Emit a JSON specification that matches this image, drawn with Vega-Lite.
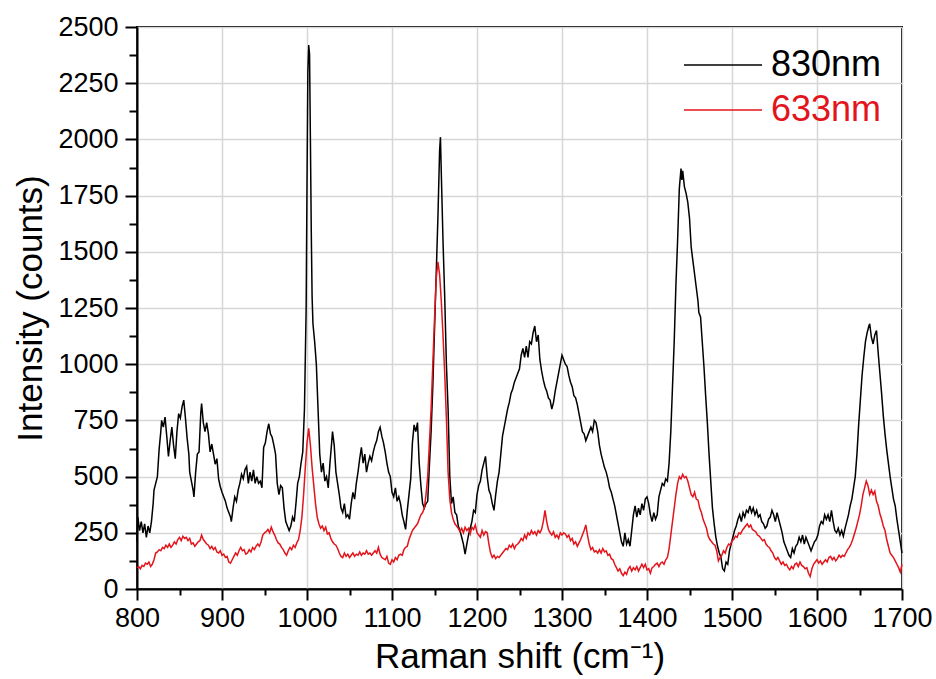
{
"$schema":"https://vega.github.io/schema/vega-lite/v6.json",
"width":765,"height":562,
"autosize":{"type":"none"},
"padding":{"left":137,"top":27,"right":34,"bottom":90},
"background":"white",
"config":{"view":{"stroke":"black","strokeWidth":2},"font":"Liberation Sans"},
"datasets":{
"k":[{"x":800,"y":210},{"x":801,"y":320},{"x":803,"y":260},{"x":805,"y":300},{"x":807,"y":250},{"x":809,"y":290},{"x":811,"y":230},{"x":813,"y":280},{"x":815,"y":250},{"x":817,"y":300},{"x":819,"y":380},{"x":820,"y":440},{"x":822,"y":470},{"x":824,"y":500},{"x":826,"y":620},{"x":828,"y":700},{"x":829,"y":750},{"x":831,"y":720},{"x":833,"y":765},{"x":835,"y":680},{"x":837,"y":590},{"x":839,"y":660},{"x":841,"y":720},{"x":843,"y":640},{"x":845,"y":580},{"x":847,"y":700},{"x":849,"y":780},{"x":851,"y":760},{"x":853,"y":810},{"x":855,"y":840},{"x":857,"y":760},{"x":859,"y":670},{"x":861,"y":600},{"x":862,"y":520},{"x":864,"y":480},{"x":866,"y":440},{"x":867,"y":410},{"x":869,"y":520},{"x":871,"y":600},{"x":873,"y":610},{"x":875,"y":780},{"x":876,"y":825},{"x":878,"y":740},{"x":880,"y":700},{"x":882,"y":740},{"x":884,"y":690},{"x":886,"y":610},{"x":888,"y":645},{"x":890,"y":600},{"x":892,"y":555},{"x":894,"y":580},{"x":896,"y":490},{"x":898,"y":455},{"x":900,"y":430},{"x":902,"y":410},{"x":904,"y":390},{"x":906,"y":360},{"x":908,"y":340},{"x":910,"y":320},{"x":911,"y":300},{"x":913,"y":360},{"x":915,"y":410},{"x":917,"y":390},{"x":919,"y":440},{"x":921,"y":470},{"x":923,"y":510},{"x":925,"y":490},{"x":927,"y":530},{"x":929,"y":545},{"x":931,"y":470},{"x":933,"y":520},{"x":935,"y":480},{"x":937,"y":530},{"x":939,"y":470},{"x":941,"y":500},{"x":943,"y":470},{"x":945,"y":480},{"x":947,"y":450},{"x":949,"y":630},{"x":951,"y":650},{"x":953,"y":700},{"x":955,"y":735},{"x":957,"y":690},{"x":959,"y":675},{"x":961,"y":640},{"x":963,"y":600},{"x":965,"y":470},{"x":967,"y":420},{"x":969,"y":460},{"x":971,"y":450},{"x":973,"y":360},{"x":975,"y":300},{"x":977,"y":280},{"x":979,"y":260},{"x":981,"y":280},{"x":983,"y":320},{"x":985,"y":300},{"x":987,"y":380},{"x":989,"y":470},{"x":991,"y":500},{"x":993,"y":560},{"x":995,"y":610},{"x":997,"y":800},{"x":999,"y":1250},{"x":1000,"y":1800},{"x":1001,"y":2300},{"x":1002,"y":2420},{"x":1003,"y":2380},{"x":1004,"y":2000},{"x":1005,"y":1600},{"x":1006,"y":1300},{"x":1007,"y":1180},{"x":1009,"y":1100},{"x":1011,"y":1000},{"x":1013,"y":800},{"x":1015,"y":600},{"x":1017,"y":520},{"x":1019,"y":560},{"x":1021,"y":480},{"x":1023,"y":500},{"x":1025,"y":450},{"x":1027,"y":560},{"x":1029,"y":650},{"x":1030,"y":700},{"x":1032,"y":640},{"x":1034,"y":520},{"x":1036,"y":470},{"x":1038,"y":420},{"x":1040,"y":360},{"x":1042,"y":340},{"x":1044,"y":380},{"x":1046,"y":320},{"x":1048,"y":330},{"x":1050,"y":310},{"x":1052,"y":380},{"x":1054,"y":430},{"x":1056,"y":400},{"x":1058,"y":470},{"x":1060,"y":520},{"x":1062,"y":580},{"x":1064,"y":630},{"x":1066,"y":560},{"x":1068,"y":600},{"x":1070,"y":520},{"x":1072,"y":560},{"x":1074,"y":590},{"x":1076,"y":570},{"x":1078,"y":610},{"x":1080,"y":640},{"x":1082,"y":660},{"x":1084,"y":700},{"x":1086,"y":720},{"x":1088,"y":680},{"x":1090,"y":650},{"x":1092,"y":610},{"x":1094,"y":560},{"x":1096,"y":520},{"x":1098,"y":500},{"x":1100,"y":430},{"x":1102,"y":410},{"x":1104,"y":450},{"x":1106,"y":390},{"x":1108,"y":410},{"x":1110,"y":380},{"x":1112,"y":330},{"x":1114,"y":300},{"x":1116,"y":265},{"x":1118,"y":350},{"x":1120,"y":420},{"x":1122,"y":490},{"x":1124,"y":650},{"x":1126,"y":730},{"x":1128,"y":700},{"x":1130,"y":740},{"x":1132,"y":560},{"x":1134,"y":460},{"x":1136,"y":380},{"x":1138,"y":360},{"x":1140,"y":380},{"x":1142,"y":390},{"x":1144,"y":550},{"x":1146,"y":700},{"x":1148,"y":900},{"x":1150,"y":1150},{"x":1152,"y":1400},{"x":1154,"y":1650},{"x":1156,"y":1950},{"x":1157,"y":2010},{"x":1158,"y":1850},{"x":1160,"y":1550},{"x":1162,"y":1300},{"x":1164,"y":1000},{"x":1166,"y":800},{"x":1168,"y":500},{"x":1170,"y":380},{"x":1172,"y":410},{"x":1174,"y":340},{"x":1176,"y":330},{"x":1178,"y":280},{"x":1180,"y":260},{"x":1182,"y":230},{"x":1184,"y":200},{"x":1186,"y":155},{"x":1188,"y":200},{"x":1190,"y":240},{"x":1192,"y":270},{"x":1194,"y":300},{"x":1196,"y":350},{"x":1198,"y":340},{"x":1200,"y":420},{"x":1202,"y":460},{"x":1204,"y":480},{"x":1206,"y":530},{"x":1208,"y":560},{"x":1210,"y":590},{"x":1212,"y":500},{"x":1214,"y":440},{"x":1216,"y":420},{"x":1218,"y":380},{"x":1220,"y":350},{"x":1222,"y":420},{"x":1224,"y":480},{"x":1226,"y":520},{"x":1228,"y":600},{"x":1230,"y":680},{"x":1232,"y":720},{"x":1234,"y":760},{"x":1236,"y":800},{"x":1238,"y":830},{"x":1240,"y":870},{"x":1242,"y":890},{"x":1244,"y":920},{"x":1246,"y":940},{"x":1248,"y":960},{"x":1250,"y":980},{"x":1252,"y":1040},{"x":1254,"y":1070},{"x":1256,"y":1030},{"x":1258,"y":1080},{"x":1260,"y":1030},{"x":1262,"y":1100},{"x":1264,"y":1090},{"x":1266,"y":1140},{"x":1268,"y":1170},{"x":1270,"y":1100},{"x":1272,"y":1130},{"x":1274,"y":1020},{"x":1276,"y":970},{"x":1278,"y":930},{"x":1280,"y":900},{"x":1282,"y":880},{"x":1284,"y":850},{"x":1286,"y":840},{"x":1288,"y":800},{"x":1290,"y":830},{"x":1292,"y":880},{"x":1294,"y":920},{"x":1296,"y":960},{"x":1298,"y":1000},{"x":1300,"y":1040},{"x":1302,"y":1020},{"x":1304,"y":1000},{"x":1306,"y":990},{"x":1308,"y":950},{"x":1310,"y":920},{"x":1312,"y":900},{"x":1314,"y":860},{"x":1316,"y":850},{"x":1318,"y":820},{"x":1320,"y":780},{"x":1322,"y":740},{"x":1324,"y":700},{"x":1326,"y":690},{"x":1328,"y":660},{"x":1330,"y":680},{"x":1332,"y":700},{"x":1334,"y":720},{"x":1336,"y":700},{"x":1338,"y":750},{"x":1340,"y":740},{"x":1342,"y":700},{"x":1344,"y":640},{"x":1346,"y":600},{"x":1348,"y":570},{"x":1350,"y":540},{"x":1352,"y":520},{"x":1354,"y":490},{"x":1356,"y":450},{"x":1358,"y":430},{"x":1360,"y":400},{"x":1362,"y":370},{"x":1364,"y":330},{"x":1366,"y":290},{"x":1368,"y":250},{"x":1370,"y":210},{"x":1372,"y":190},{"x":1374,"y":250},{"x":1376,"y":200},{"x":1378,"y":220},{"x":1380,"y":190},{"x":1382,"y":260},{"x":1384,"y":330},{"x":1386,"y":370},{"x":1388,"y":320},{"x":1390,"y":360},{"x":1392,"y":330},{"x":1394,"y":380},{"x":1396,"y":350},{"x":1398,"y":400},{"x":1400,"y":410},{"x":1402,"y":380},{"x":1404,"y":330},{"x":1406,"y":300},{"x":1408,"y":340},{"x":1410,"y":310},{"x":1412,"y":330},{"x":1414,"y":410},{"x":1416,"y":440},{"x":1418,"y":470},{"x":1420,"y":460},{"x":1422,"y":490},{"x":1424,"y":480},{"x":1426,"y":560},{"x":1428,"y":700},{"x":1430,"y":900},{"x":1432,"y":1100},{"x":1434,"y":1350},{"x":1436,"y":1550},{"x":1438,"y":1780},{"x":1440,"y":1870},{"x":1441,"y":1820},{"x":1442,"y":1860},{"x":1444,"y":1790},{"x":1446,"y":1760},{"x":1448,"y":1720},{"x":1450,"y":1650},{"x":1452,"y":1520},{"x":1454,"y":1460},{"x":1456,"y":1400},{"x":1458,"y":1340},{"x":1460,"y":1280},{"x":1461,"y":1230},{"x":1463,"y":1210},{"x":1465,"y":1100},{"x":1467,"y":990},{"x":1469,"y":860},{"x":1471,"y":740},{"x":1473,"y":600},{"x":1475,"y":480},{"x":1477,"y":360},{"x":1479,"y":290},{"x":1481,"y":230},{"x":1483,"y":190},{"x":1485,"y":160},{"x":1487,"y":140},{"x":1489,"y":90},{"x":1491,"y":80},{"x":1493,"y":120},{"x":1495,"y":110},{"x":1497,"y":170},{"x":1499,"y":200},{"x":1501,"y":230},{"x":1503,"y":260},{"x":1505,"y":280},{"x":1507,"y":310},{"x":1509,"y":330},{"x":1511,"y":300},{"x":1513,"y":340},{"x":1515,"y":320},{"x":1517,"y":350},{"x":1519,"y":340},{"x":1521,"y":370},{"x":1523,"y":340},{"x":1525,"y":360},{"x":1527,"y":330},{"x":1529,"y":350},{"x":1531,"y":320},{"x":1533,"y":330},{"x":1535,"y":300},{"x":1537,"y":290},{"x":1539,"y":270},{"x":1541,"y":280},{"x":1543,"y":310},{"x":1545,"y":320},{"x":1547,"y":350},{"x":1549,"y":330},{"x":1551,"y":300},{"x":1553,"y":340},{"x":1555,"y":310},{"x":1557,"y":280},{"x":1559,"y":250},{"x":1561,"y":210},{"x":1563,"y":190},{"x":1565,"y":170},{"x":1567,"y":150},{"x":1569,"y":140},{"x":1571,"y":180},{"x":1573,"y":160},{"x":1575,"y":190},{"x":1577,"y":200},{"x":1579,"y":230},{"x":1581,"y":210},{"x":1583,"y":240},{"x":1585,"y":200},{"x":1587,"y":230},{"x":1589,"y":210},{"x":1591,"y":190},{"x":1593,"y":170},{"x":1595,"y":190},{"x":1597,"y":210},{"x":1599,"y":220},{"x":1601,"y":240},{"x":1603,"y":280},{"x":1605,"y":300},{"x":1607,"y":290},{"x":1609,"y":330},{"x":1611,"y":310},{"x":1613,"y":330},{"x":1615,"y":300},{"x":1617,"y":350},{"x":1619,"y":300},{"x":1621,"y":260},{"x":1623,"y":250},{"x":1625,"y":270},{"x":1627,"y":240},{"x":1629,"y":260},{"x":1631,"y":235},{"x":1633,"y":270},{"x":1635,"y":300},{"x":1637,"y":330},{"x":1639,"y":370},{"x":1641,"y":400},{"x":1643,"y":450},{"x":1645,"y":500},{"x":1647,"y":600},{"x":1649,"y":730},{"x":1651,"y":840},{"x":1653,"y":950},{"x":1655,"y":1030},{"x":1657,"y":1100},{"x":1659,"y":1140},{"x":1661,"y":1170},{"x":1662,"y":1180},{"x":1664,"y":1120},{"x":1666,"y":1090},{"x":1668,"y":1130},{"x":1670,"y":1150},{"x":1672,"y":1050},{"x":1674,"y":960},{"x":1676,"y":870},{"x":1678,"y":770},{"x":1680,"y":690},{"x":1682,"y":620},{"x":1684,"y":560},{"x":1686,"y":500},{"x":1688,"y":450},{"x":1690,"y":400},{"x":1692,"y":370},{"x":1694,"y":310},{"x":1696,"y":260},{"x":1698,"y":210},{"x":1700,"y":160}],
"r":[{"x":800,"y":95},{"x":802,"y":100},{"x":804,"y":90},{"x":806,"y":105},{"x":808,"y":100},{"x":810,"y":115},{"x":812,"y":110},{"x":814,"y":120},{"x":816,"y":100},{"x":818,"y":110},{"x":820,"y":130},{"x":822,"y":160},{"x":824,"y":165},{"x":826,"y":175},{"x":828,"y":170},{"x":830,"y":185},{"x":832,"y":180},{"x":834,"y":195},{"x":836,"y":185},{"x":838,"y":200},{"x":840,"y":185},{"x":842,"y":195},{"x":844,"y":210},{"x":846,"y":200},{"x":848,"y":220},{"x":850,"y":230},{"x":852,"y":215},{"x":854,"y":235},{"x":856,"y":225},{"x":858,"y":230},{"x":860,"y":215},{"x":862,"y":225},{"x":864,"y":200},{"x":866,"y":205},{"x":868,"y":190},{"x":870,"y":200},{"x":872,"y":210},{"x":874,"y":215},{"x":876,"y":240},{"x":878,"y":220},{"x":880,"y":210},{"x":882,"y":200},{"x":884,"y":195},{"x":886,"y":180},{"x":888,"y":190},{"x":890,"y":175},{"x":892,"y":185},{"x":894,"y":165},{"x":896,"y":160},{"x":898,"y":170},{"x":900,"y":150},{"x":902,"y":155},{"x":904,"y":140},{"x":906,"y":145},{"x":908,"y":120},{"x":910,"y":115},{"x":912,"y":130},{"x":914,"y":145},{"x":916,"y":160},{"x":918,"y":150},{"x":920,"y":170},{"x":922,"y":185},{"x":924,"y":170},{"x":926,"y":175},{"x":928,"y":155},{"x":930,"y":160},{"x":932,"y":175},{"x":934,"y":165},{"x":936,"y":185},{"x":938,"y":175},{"x":940,"y":190},{"x":942,"y":200},{"x":944,"y":190},{"x":946,"y":210},{"x":948,"y":240},{"x":950,"y":250},{"x":952,"y":255},{"x":954,"y":265},{"x":956,"y":250},{"x":958,"y":275},{"x":960,"y":255},{"x":962,"y":240},{"x":964,"y":220},{"x":966,"y":205},{"x":968,"y":200},{"x":970,"y":185},{"x":972,"y":175},{"x":974,"y":160},{"x":976,"y":150},{"x":978,"y":170},{"x":980,"y":185},{"x":982,"y":175},{"x":984,"y":195},{"x":986,"y":185},{"x":988,"y":205},{"x":990,"y":220},{"x":992,"y":260},{"x":994,"y":320},{"x":996,"y":420},{"x":998,"y":540},{"x":1000,"y":650},{"x":1002,"y":715},{"x":1004,"y":640},{"x":1006,"y":540},{"x":1008,"y":460},{"x":1010,"y":380},{"x":1012,"y":320},{"x":1014,"y":290},{"x":1016,"y":270},{"x":1018,"y":280},{"x":1020,"y":260},{"x":1022,"y":275},{"x":1024,"y":245},{"x":1026,"y":250},{"x":1028,"y":225},{"x":1030,"y":210},{"x":1032,"y":200},{"x":1034,"y":195},{"x":1036,"y":180},{"x":1038,"y":160},{"x":1040,"y":145},{"x":1042,"y":140},{"x":1044,"y":160},{"x":1046,"y":145},{"x":1048,"y":155},{"x":1050,"y":140},{"x":1052,"y":150},{"x":1054,"y":160},{"x":1056,"y":145},{"x":1058,"y":155},{"x":1060,"y":150},{"x":1062,"y":165},{"x":1064,"y":150},{"x":1066,"y":160},{"x":1068,"y":155},{"x":1070,"y":170},{"x":1072,"y":155},{"x":1074,"y":160},{"x":1076,"y":150},{"x":1078,"y":160},{"x":1080,"y":170},{"x":1082,"y":160},{"x":1084,"y":185},{"x":1086,"y":155},{"x":1088,"y":140},{"x":1090,"y":135},{"x":1092,"y":130},{"x":1094,"y":145},{"x":1096,"y":115},{"x":1098,"y":110},{"x":1100,"y":130},{"x":1102,"y":120},{"x":1104,"y":140},{"x":1106,"y":130},{"x":1108,"y":150},{"x":1110,"y":155},{"x":1112,"y":150},{"x":1114,"y":175},{"x":1116,"y":185},{"x":1118,"y":190},{"x":1120,"y":220},{"x":1122,"y":240},{"x":1124,"y":260},{"x":1126,"y":270},{"x":1128,"y":280},{"x":1130,"y":290},{"x":1132,"y":310},{"x":1134,"y":330},{"x":1136,"y":340},{"x":1138,"y":360},{"x":1140,"y":420},{"x":1142,"y":500},{"x":1144,"y":650},{"x":1146,"y":800},{"x":1148,"y":1000},{"x":1150,"y":1200},{"x":1152,"y":1380},{"x":1154,"y":1455},{"x":1156,"y":1400},{"x":1158,"y":1280},{"x":1160,"y":1130},{"x":1162,"y":960},{"x":1164,"y":760},{"x":1166,"y":520},{"x":1168,"y":400},{"x":1170,"y":340},{"x":1172,"y":310},{"x":1174,"y":290},{"x":1176,"y":280},{"x":1178,"y":270},{"x":1180,"y":255},{"x":1182,"y":270},{"x":1184,"y":250},{"x":1186,"y":275},{"x":1188,"y":260},{"x":1190,"y":270},{"x":1192,"y":245},{"x":1194,"y":275},{"x":1196,"y":265},{"x":1198,"y":285},{"x":1200,"y":250},{"x":1202,"y":240},{"x":1204,"y":230},{"x":1206,"y":260},{"x":1208,"y":240},{"x":1210,"y":255},{"x":1212,"y":250},{"x":1214,"y":200},{"x":1216,"y":160},{"x":1218,"y":140},{"x":1220,"y":150},{"x":1222,"y":135},{"x":1224,"y":145},{"x":1226,"y":140},{"x":1228,"y":150},{"x":1230,"y":160},{"x":1232,"y":170},{"x":1234,"y":180},{"x":1236,"y":175},{"x":1238,"y":195},{"x":1240,"y":185},{"x":1242,"y":200},{"x":1244,"y":180},{"x":1246,"y":195},{"x":1248,"y":200},{"x":1250,"y":210},{"x":1252,"y":225},{"x":1254,"y":215},{"x":1256,"y":240},{"x":1258,"y":225},{"x":1260,"y":250},{"x":1262,"y":240},{"x":1264,"y":260},{"x":1266,"y":245},{"x":1268,"y":255},{"x":1270,"y":240},{"x":1272,"y":260},{"x":1274,"y":250},{"x":1276,"y":265},{"x":1278,"y":300},{"x":1280,"y":350},{"x":1282,"y":300},{"x":1284,"y":265},{"x":1286,"y":250},{"x":1288,"y":240},{"x":1290,"y":255},{"x":1292,"y":230},{"x":1294,"y":240},{"x":1296,"y":225},{"x":1298,"y":250},{"x":1300,"y":240},{"x":1302,"y":250},{"x":1304,"y":245},{"x":1306,"y":230},{"x":1308,"y":240},{"x":1310,"y":215},{"x":1312,"y":225},{"x":1314,"y":200},{"x":1316,"y":210},{"x":1318,"y":190},{"x":1320,"y":205},{"x":1322,"y":220},{"x":1324,"y":240},{"x":1326,"y":260},{"x":1328,"y":285},{"x":1330,"y":240},{"x":1332,"y":200},{"x":1334,"y":175},{"x":1336,"y":185},{"x":1338,"y":165},{"x":1340,"y":170},{"x":1342,"y":160},{"x":1344,"y":175},{"x":1346,"y":160},{"x":1348,"y":180},{"x":1350,"y":165},{"x":1352,"y":170},{"x":1354,"y":150},{"x":1356,"y":155},{"x":1358,"y":135},{"x":1360,"y":130},{"x":1362,"y":110},{"x":1364,"y":95},{"x":1366,"y":80},{"x":1368,"y":90},{"x":1370,"y":70},{"x":1372,"y":60},{"x":1374,"y":75},{"x":1376,"y":65},{"x":1378,"y":90},{"x":1380,"y":100},{"x":1382,"y":80},{"x":1384,"y":95},{"x":1386,"y":85},{"x":1388,"y":100},{"x":1390,"y":80},{"x":1392,"y":95},{"x":1394,"y":110},{"x":1396,"y":95},{"x":1398,"y":110},{"x":1400,"y":85},{"x":1402,"y":90},{"x":1404,"y":70},{"x":1406,"y":95},{"x":1408,"y":100},{"x":1410,"y":110},{"x":1412,"y":115},{"x":1414,"y":100},{"x":1416,"y":115},{"x":1418,"y":120},{"x":1420,"y":110},{"x":1422,"y":130},{"x":1424,"y":140},{"x":1426,"y":180},{"x":1428,"y":240},{"x":1430,"y":300},{"x":1432,"y":360},{"x":1434,"y":420},{"x":1436,"y":470},{"x":1438,"y":500},{"x":1440,"y":490},{"x":1442,"y":510},{"x":1444,"y":495},{"x":1446,"y":500},{"x":1448,"y":480},{"x":1450,"y":450},{"x":1452,"y":420},{"x":1454,"y":410},{"x":1456,"y":430},{"x":1458,"y":400},{"x":1460,"y":395},{"x":1462,"y":360},{"x":1464,"y":340},{"x":1466,"y":310},{"x":1468,"y":290},{"x":1470,"y":270},{"x":1472,"y":235},{"x":1474,"y":220},{"x":1476,"y":210},{"x":1478,"y":200},{"x":1480,"y":195},{"x":1482,"y":170},{"x":1484,"y":125},{"x":1486,"y":140},{"x":1488,"y":150},{"x":1490,"y":170},{"x":1492,"y":160},{"x":1494,"y":185},{"x":1496,"y":200},{"x":1498,"y":195},{"x":1500,"y":215},{"x":1502,"y":220},{"x":1504,"y":235},{"x":1506,"y":230},{"x":1508,"y":250},{"x":1510,"y":245},{"x":1512,"y":260},{"x":1514,"y":270},{"x":1516,"y":280},{"x":1518,"y":290},{"x":1520,"y":275},{"x":1522,"y":285},{"x":1524,"y":265},{"x":1526,"y":260},{"x":1528,"y":255},{"x":1530,"y":240},{"x":1532,"y":235},{"x":1534,"y":225},{"x":1536,"y":215},{"x":1538,"y":220},{"x":1540,"y":200},{"x":1542,"y":190},{"x":1544,"y":185},{"x":1546,"y":170},{"x":1548,"y":160},{"x":1550,"y":140},{"x":1552,"y":130},{"x":1554,"y":140},{"x":1556,"y":125},{"x":1558,"y":110},{"x":1560,"y":120},{"x":1562,"y":105},{"x":1564,"y":110},{"x":1566,"y":95},{"x":1568,"y":85},{"x":1570,"y":100},{"x":1572,"y":90},{"x":1574,"y":110},{"x":1576,"y":115},{"x":1578,"y":100},{"x":1580,"y":120},{"x":1582,"y":105},{"x":1584,"y":100},{"x":1586,"y":90},{"x":1588,"y":95},{"x":1590,"y":70},{"x":1592,"y":55},{"x":1594,"y":90},{"x":1596,"y":110},{"x":1598,"y":120},{"x":1600,"y":130},{"x":1602,"y":115},{"x":1604,"y":125},{"x":1606,"y":110},{"x":1608,"y":120},{"x":1610,"y":130},{"x":1612,"y":120},{"x":1614,"y":140},{"x":1616,"y":145},{"x":1618,"y":130},{"x":1620,"y":140},{"x":1622,"y":125},{"x":1624,"y":135},{"x":1626,"y":150},{"x":1628,"y":140},{"x":1630,"y":150},{"x":1632,"y":145},{"x":1634,"y":160},{"x":1636,"y":175},{"x":1638,"y":185},{"x":1640,"y":200},{"x":1642,"y":220},{"x":1644,"y":245},{"x":1646,"y":270},{"x":1648,"y":300},{"x":1650,"y":330},{"x":1652,"y":370},{"x":1654,"y":420},{"x":1656,"y":450},{"x":1658,"y":480},{"x":1660,"y":460},{"x":1662,"y":420},{"x":1664,"y":440},{"x":1666,"y":420},{"x":1668,"y":435},{"x":1670,"y":390},{"x":1672,"y":370},{"x":1674,"y":335},{"x":1676,"y":310},{"x":1678,"y":280},{"x":1680,"y":260},{"x":1682,"y":220},{"x":1684,"y":190},{"x":1686,"y":160},{"x":1688,"y":150},{"x":1690,"y":140},{"x":1692,"y":125},{"x":1694,"y":110},{"x":1696,"y":95},{"x":1698,"y":75},{"x":1700,"y":110}]
},
"encoding":{
"x":{"field":"x","type":"quantitative","title":"Raman shift (cm⁻¹)",
"scale":{"domain":[800,1700],"nice":false,"zero":false},
"axis":{"values":[800,850,900,950,1000,1050,1100,1150,1200,1250,1300,1350,1400,1450,1500,1550,1600,1650,1700],"format":"d",
"labelExpr":"datum.value % 100 === 0 ? datum.label : ''",
"tickSize":{"condition":{"test":"datum.value % 100 !== 0","value":6},"value":11},
"gridOpacity":{"condition":{"test":"datum.value % 100 !== 0","value":0},"value":1},
"grid":true,"gridColor":"#d6d6d6","gridWidth":1.5,
"domainColor":"black","domainWidth":2,"tickColor":"black","tickWidth":2,
"labelFontSize":27,"labelColor":"black","labelPadding":5,"labelOverlap":false,"labelFlush":false,
"titleFontSize":35,"titleFontWeight":"normal","titleColor":"black","titlePadding":8}},
"y":{"field":"y","type":"quantitative","title":"Intensity (counts)",
"scale":{"domain":[0,2500],"nice":false},
"axis":{"values":[0,125,250,375,500,625,750,875,1000,1125,1250,1375,1500,1625,1750,1875,2000,2125,2250,2375,2500],"format":"d",
"labelExpr":"datum.value % 250 === 0 ? datum.label : ''",
"tickSize":{"condition":{"test":"datum.value % 250 !== 0","value":8},"value":12},
"gridOpacity":{"condition":{"test":"datum.value % 250 !== 0","value":0},"value":1},
"grid":true,"gridColor":"#d6d6d6","gridWidth":1.5,
"domainColor":"black","domainWidth":2,"tickColor":"black","tickWidth":2,
"labelFontSize":27,"labelColor":"black","labelPadding":7,"labelOverlap":false,"labelFlush":false,
"titleFontSize":35,"titleFontWeight":"normal","titleColor":"black","titlePadding":9}}
},
"layer":[
{"data":{"name":"k"},"mark":{"type":"line","strokeWidth":1.5},
"encoding":{"color":{"datum":"830nm","type":"nominal",
"scale":{"domain":["830nm","633nm"],"range":["#000000","#e3141b"]},
"legend":{"orient":"top-right","offset":20,"title":null,"padding":0,
"symbolType":"M-1.6,0H3.6","symbolSize":900,"symbolStrokeWidth":1.5,
"labelFontSize":36,"labelOffset":45,"rowPadding":9,
"labelColor":{"expr":"datum.label === '633nm' ? '#e3141b' : '#000000'"}}}}},
{"data":{"name":"r"},"mark":{"type":"line","strokeWidth":1.5},
"encoding":{"color":{"datum":"633nm","type":"nominal"}}}
]
}
